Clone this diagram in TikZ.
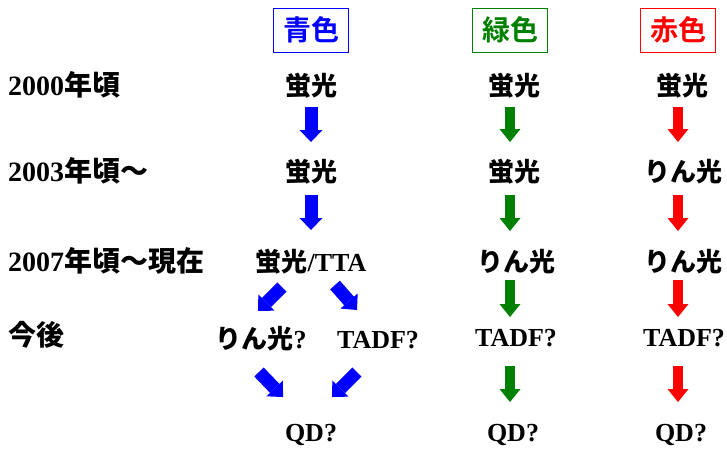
\documentclass[tikz,border=0pt]{standalone}
\usepackage{fontspec}
\setmainfont{Liberation Serif}
\newfontfamily\jp{Noto Sans CJK JP}[UprightFont=* Bold]
\usetikzlibrary{arrows.meta}
\definecolor{cblue}{RGB}{0,0,255}
\definecolor{cgreen}{RGB}{0,128,0}
\definecolor{cred}{RGB}{255,0,0}
\newcommand\J[1]{{\jp #1}}
\begin{document}
\begin{tikzpicture}[x=1pt,y=-1pt,
  lbl/.style={anchor=west, inner sep=0pt, text height=19pt, text depth=3pt, font=\fontsize{28}{32}\selectfont\bfseries},
  itm/.style={inner sep=0pt, text height=18pt, text depth=2pt, font=\fontsize{26}{30}\selectfont\bfseries},
  ttl/.style={draw, line width=1pt, minimum width=75pt, minimum height=44pt, inner sep=0pt, font=\fontsize{28}{32}\selectfont\jp},
  barr/.style={line width=13pt, draw=cblue, -{Triangle[width=23pt,length=12pt,line width=0pt]}},
  garr/.style={line width=10pt, draw=cgreen, -{Triangle[width=21pt,length=13pt,line width=0pt]}},
  rarr/.style={line width=10pt, draw=cred, -{Triangle[width=21pt,length=13pt,line width=0pt]}}]
\useasboundingbox (0,0) rectangle (727,448);

% titles
\node[ttl, draw=cblue, text=cblue] (tb) at (311,30) {青色};
\node[ttl, draw=cgreen, text=cgreen] (tg) at (510,30) {緑色};
\node[ttl, draw=cred, text=cred] (tr) at (678,30) {赤色};

% row labels
\node[lbl] (l1) at (8,87) {2000\J{年頃}};
\node[lbl] (l2) at (8,173) {2003\J{年頃～}};
\node[lbl] (l3) at (8,263) {2007\J{年頃～現在}};
\node[lbl] (l4) at (8,337) {\J{今後}};

% blue column
\node[itm] (b1) at (311,87) {\J{蛍光}};
\node[itm] (b2) at (311,173) {\J{蛍光}};
\node[itm] (b3) at (311,263) {\J{蛍光}/TTA};
\node[itm] (b4a) at (261,340) {\J{りん光}?};
\node[itm] (b4b) at (378,340) {TADF?};
\node[itm] (b5) at (311,433) {QD?};

% green column
\node[itm] (g1) at (514,87) {\J{蛍光}};
\node[itm] (g2) at (514,173) {\J{蛍光}};
\node[itm] (g3) at (516,263) {\J{りん光}};
\node[itm] (g4) at (516,338) {TADF?};
\node[itm] (g5) at (513,433) {QD?};

% red column
\node[itm] (r1) at (682,87) {\J{蛍光}};
\node[itm] (r2) at (683,173) {\J{りん光}};
\node[itm] (r3) at (683,263) {\J{りん光}};
\node[itm] (r4) at (684,338) {TADF?};
\node[itm] (r5) at (681,433) {QD?};

% blue arrows
\draw[barr] ([shift={(0,20)}]b1.center) -- ([shift={(0,-31)}]b2.center);
\draw[barr] ([shift={(0,22)}]b2.center) -- ([shift={(0,-33)}]b3.center);
\draw[barr] ([shift={(-29,24)}]b3.center) -- ([shift={(-3,-29)}]b4a.center);
\draw[barr] ([shift={(24,22)}]b3.center) -- ([shift={(-21,-30)}]b4b.center);
\draw[barr] ([shift={(-2,32)}]b4a.center) -- ([shift={(-28,-36)}]b5.center);
\draw[barr] ([shift={(-21,32)}]b4b.center) -- ([shift={(21,-36)}]b5.center);

% green arrows
\draw[garr] ([shift={(-4,20)}]g1.center) -- ([shift={(-4,-31)}]g2.center);
\draw[garr] ([shift={(-4,22)}]g2.center) -- ([shift={(-6,-32)}]g3.center);
\draw[garr] ([shift={(-6,17)}]g3.center) -- ([shift={(-6,-21)}]g4.center);
\draw[garr] ([shift={(-6,28)}]g4.center) -- ([shift={(-3,-31)}]g5.center);

% red arrows
\draw[rarr] ([shift={(-4,20)}]r1.center) -- ([shift={(-5,-31)}]r2.center);
\draw[rarr] ([shift={(-5,22)}]r2.center) -- ([shift={(-5,-32)}]r3.center);
\draw[rarr] ([shift={(-5,17)}]r3.center) -- ([shift={(-6,-21)}]r4.center);
\draw[rarr] ([shift={(-6,28)}]r4.center) -- ([shift={(-3,-31)}]r5.center);
\end{tikzpicture}
\end{document}
